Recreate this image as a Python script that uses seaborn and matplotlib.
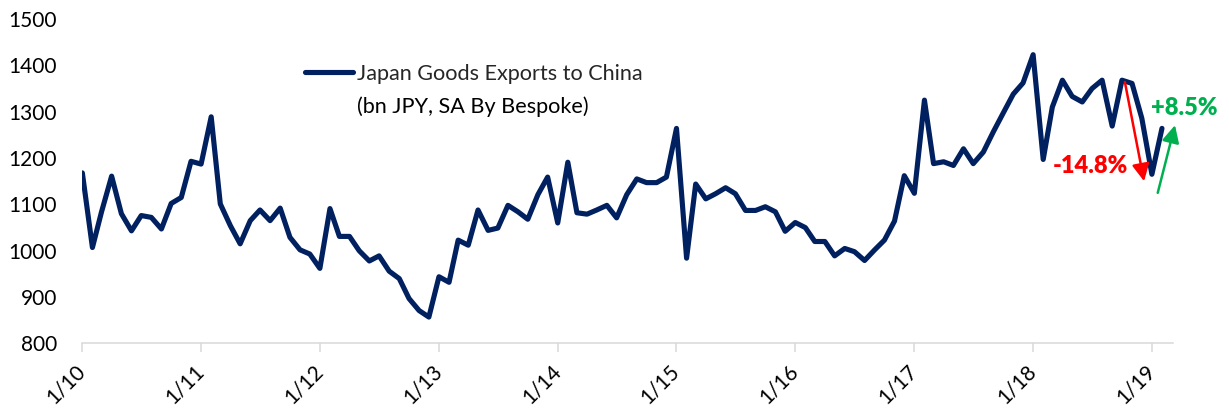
import matplotlib
matplotlib.use("Agg")
import matplotlib.pyplot as plt
import matplotlib.dates as mdates
import pandas as pd
import seaborn as sns

# ---- data (bn JPY, seasonally adjusted) ----
months = pd.date_range("2010-01-01", "2019-02-01", freq="MS")
exports_2010 = [1168, 1007, 1084, 1161, 1080, 1043, 1076, 1072, 1047, 1102, 1115, 1193]
exports_2011 = [1187, 1289, 1101, 1054, 1015, 1065, 1088, 1065, 1092, 1029, 1002, 993]
exports_2012 = [962, 1091, 1031, 1031, 1000, 978, 989, 956, 940, 897, 871, 857]
exports_2013 = [944, 932, 1023, 1012, 1088, 1044, 1049, 1098, 1084, 1068, 1121, 1159]
exports_2014 = [1060, 1191, 1082, 1079, 1088, 1098, 1071, 1121, 1155, 1147, 1147, 1159]
exports_2015 = [1264, 984, 1144, 1112, 1123, 1136, 1123, 1087, 1087, 1095, 1084, 1042]
exports_2016 = [1061, 1050, 1020, 1020, 989, 1005, 998, 979, 1002, 1023, 1064, 1162]
exports_2017 = [1124, 1325, 1188, 1192, 1184, 1220, 1188, 1213, 1257, 1297, 1338, 1362]
exports_2018 = [1423, 1197, 1310, 1368, 1333, 1321, 1350, 1368, 1269, 1368, 1361, 1286]
exports_2019 = [1165, 1264]
values = (exports_2010 + exports_2011 + exports_2012 + exports_2013 + exports_2014
          + exports_2015 + exports_2016 + exports_2017 + exports_2018 + exports_2019)

tick_dates = pd.date_range("2010-01-01", "2019-01-01", freq="YS")
tick_labels = ["1/10", "1/11", "1/12", "1/13", "1/14", "1/15", "1/16", "1/17", "1/18", "1/19"]
y_ticks = [800, 900, 1000, 1100, 1200, 1300, 1400, 1500]

legend_line1 = "Japan Goods Exports to China"
legend_line2 = "(bn JPY, SA By Bespoke)"
drop_label = "-14.8%"
rise_label = "+8.5%"

NAVY = "#002060"
RED = "#FF0000"
GREEN = "#00B050"
AXIS_GREY = "#D9D9D9"

sns.set_theme(style="white")
plt.rcParams["font.family"] = ["Lato", "DejaVu Sans"]

fig = plt.figure(figsize=(12.29, 4.12), dpi=100)
ax = fig.add_axes([0.0670, 0.1663, 0.9542 - 0.0670, 0.9539 - 0.1663])

df = pd.DataFrame({"date": months, "value": values})
sns.lineplot(data=df, x="date", y="value", ax=ax, color=NAVY, linewidth=3.7,
             legend=False, solid_joinstyle="round", solid_capstyle="round")

ax.set_xlim(pd.Timestamp("2010-01-01"), pd.Timestamp("2019-03-06"))
ax.set_ylim(800, 1500)
ax.set_yticks(y_ticks)
ax.set_yticklabels([str(v) for v in y_ticks])
ax.set_xticks(tick_dates)
ax.set_xticklabels(tick_labels)
ax.set_xlabel("")
ax.set_ylabel("")

for side in ["left", "top", "right"]:
    ax.spines[side].set_visible(False)
ax.spines["bottom"].set_color(AXIS_GREY)
ax.spines["bottom"].set_linewidth(1.1)

ax.tick_params(axis="x", bottom=True, length=6.5, width=1.1, color=AXIS_GREY,
               direction="out", pad=11, labelsize=15, labelcolor="black")
ax.tick_params(axis="y", left=False, length=0, pad=18.3, labelsize=15, labelcolor="black")
for lab in ax.get_xticklabels():
    lab.set_rotation(45)
    lab.set_ha("right")
    lab.set_va("center")
    lab.set_rotation_mode("anchor")

# legend
leg = ax.legend(ax.lines[:1], [legend_line1], loc="center left",
                bbox_to_anchor=(305 / 1229, 1 - 74 / 412), bbox_transform=fig.transFigure,
                frameon=False, fontsize=15.6, handlelength=2.2, handletextpad=0.2,
                borderpad=0, borderaxespad=0)
fig.text(357 / 1229, 1 - 113.3 / 412, legend_line2, fontsize=15.6, color="black",
         ha="left", va="baseline")

# arrows and annotations
d = mdates.date2num
ax.annotate("", xy=(d(pd.Timestamp("2018-12-08")), 1150),
            xytext=(d(pd.Timestamp("2018-10-10")), 1364),
            arrowprops=dict(arrowstyle="-|>", color=RED, lw=1.8, mutation_scale=26,
                            shrinkA=0, shrinkB=0), annotation_clip=False)
ax.annotate("", xy=(d(pd.Timestamp("2019-03-13")), 1271),
            xytext=(d(pd.Timestamp("2019-01-19")), 1125),
            arrowprops=dict(arrowstyle="-|>", color=GREEN, lw=1.8, mutation_scale=26,
                            shrinkA=0, shrinkB=0), annotation_clip=False)
ax.text(d(pd.Timestamp("2018-06-25")), 1182, drop_label, color=RED, fontsize=17,
        fontweight="heavy", ha="center", va="center")
ax.text(d(pd.Timestamp("2019-04-10")), 1307, rise_label, color=GREEN, fontsize=17,
        fontweight="heavy", ha="center", va="center", clip_on=False)

fig.savefig("out.png", dpi=100)
